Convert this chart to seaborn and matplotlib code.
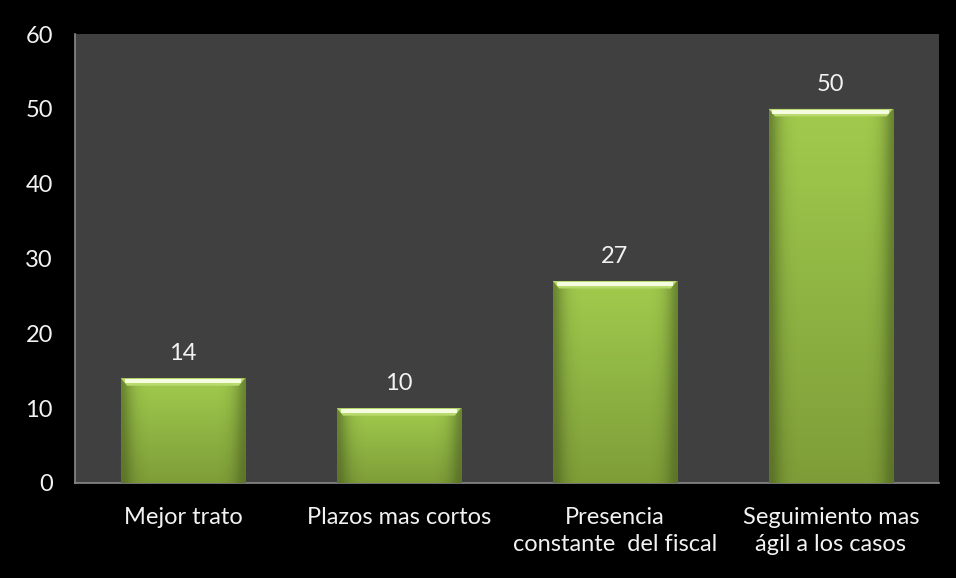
import numpy as np
import pandas as pd
import matplotlib
matplotlib.use("Agg")
import matplotlib.pyplot as plt
import matplotlib.patches as mpatches
from matplotlib.colors import LinearSegmentedColormap
import seaborn as sns

categories = ["Mejor trato", "Plazos mas cortos", "Presencia\nconstante  del fiscal",
              "Seguimiento mas\nágil a los casos"]
values = [14, 10, 27, 50]
yticks = [0, 10, 20, 30, 40, 50, 60]

sns.set_theme(style="dark")
plt.rcParams["font.family"] = ["Lato", "DejaVu Sans"]

df = pd.DataFrame({"cat": categories, "val": values})

fig = plt.figure(figsize=(9.56, 5.78), dpi=100, facecolor="black")
ax = fig.add_axes([0.0785, 0.1644, 0.9035, 0.7766])
ax.set_facecolor("#404040")

sns.barplot(data=df, x="cat", y="val", color="#94bf45", width=0.575,
            saturation=1, ax=ax, edgecolor="none", zorder=2)

ax.set_ylim(0, 60)
ax.set_xlim(-0.5, len(categories) - 0.5)
ax.set_yticks(yticks)
ax.set_yticklabels([str(t) for t in yticks])
ax.set_xlabel("")
ax.set_ylabel("")
ax.grid(False)

for s in ["top", "right"]:
    ax.spines[s].set_visible(False)
for s in ["left", "bottom"]:
    ax.spines[s].set_visible(True)
    ax.spines[s].set_color("#8a8a8a")
    ax.spines[s].set_linewidth(1.2)

ax.tick_params(axis="y", colors="#f2f2f2", labelsize=17, length=0, pad=16)
ax.tick_params(axis="x", colors="#f2f2f2", labelsize=17, length=0, pad=17)
for lab in ax.get_xticklabels():
    lab.set_linespacing(1.4)

# gradient fill and top highlight on each bar
cmap = LinearSegmentedColormap.from_list("g", ["#7e9d38", "#8fb443", "#a2cb4d"])
grad = np.linspace(0, 1, 256).reshape(-1, 1)
hgrad = np.linspace(0, 1, 256).reshape(1, -1)
for p, v in zip(ax.patches, values):
    x0, y0 = p.get_x(), p.get_y()
    w, h = p.get_width(), p.get_height()
    im = ax.imshow(grad, cmap=cmap, aspect="auto", origin="lower",
                   extent=[x0, x0 + w, y0, y0 + h], zorder=3)
    im.set_clip_path(p)
    im2 = ax.imshow((np.abs(hgrad - 0.5) * 2) ** 8,
                    cmap=LinearSegmentedColormap.from_list("e", ["#00000000", "#4f6620aa"]),
                    aspect="auto", extent=[x0, x0 + w, y0, y0 + h], zorder=3.5)
    im2.set_clip_path(p)
    ax.add_patch(mpatches.Polygon(
        [(x0, y0 + h), (x0 + w, y0 + h), (x0 + w * 0.95, y0 + h - 1.0),
         (x0 + w * 0.05, y0 + h - 1.0)],
        closed=True, facecolor="#b9da6e", edgecolor="none", zorder=4))
    ax.add_patch(mpatches.Rectangle((x0 + w * 0.03, y0 + h - 0.7), w * 0.94, 0.55,
                                    facecolor="#f6fce0", edgecolor="none", zorder=4.5))
    ax.annotate(str(v), xy=(x0 + w / 2, y0 + h), xytext=(0, 10),
                textcoords="offset points", ha="center", va="bottom",
                color="#f2f2f2", fontsize=17, zorder=5)

ax.set_xlim(-0.5, len(categories) - 0.5)
ax.set_ylim(0, 60)

fig.savefig("out.png", dpi=100, facecolor="black")
